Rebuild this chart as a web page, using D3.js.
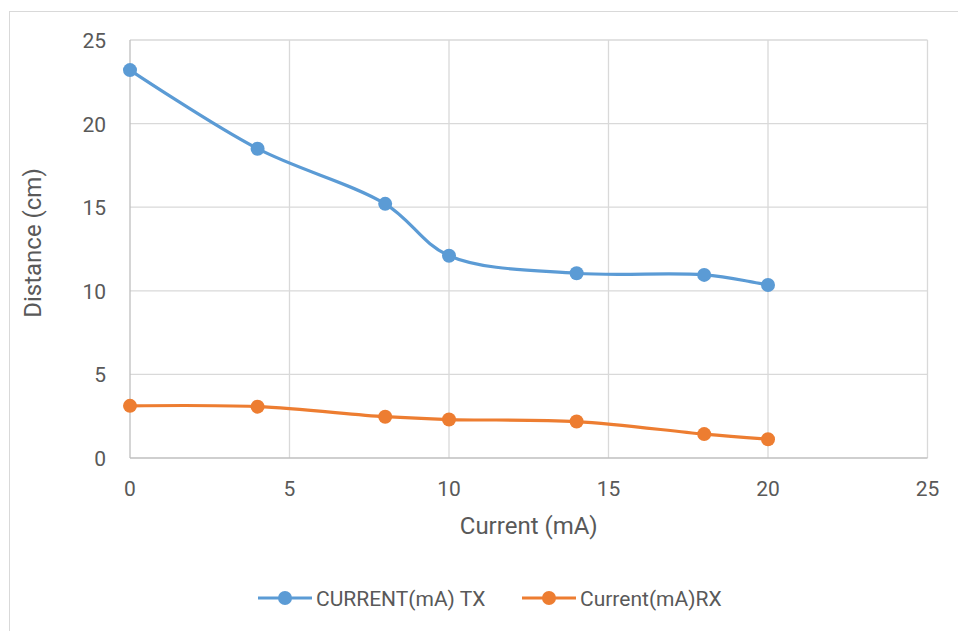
<!DOCTYPE html>
<html>
<head>
<meta charset="utf-8">
<script src="https://cdn.jsdelivr.net/npm/d3@7"></script>
<style>
  body { margin: 0; background: #fff; }
  text { font-family: "Roboto", sans-serif; fill: #595959; }
</style>
</head>
<body>
<svg width="958" height="631"></svg>
<script>
// data
let currents = [0, 4, 8, 10, 14, 18, 20];
let txDistance = [23.2, 18.5, 15.2, 12.1, 11.05, 10.95, 10.35];
let rxDistance = [3.12, 3.07, 2.47, 2.3, 2.18, 1.43, 1.12];
let seriesNames = ["CURRENT(mA) TX", "Current(mA)RX"];
let seriesColors = ["#5b9bd5", "#ed7d31"];
let xTicks = [0, 5, 10, 15, 20, 25];
let yTicks = [0, 5, 10, 15, 20, 25];

let svg = d3.select("svg");

// chart frame (runs off the right and bottom edges)
svg.append("rect")
  .attr("x", 9.5).attr("y", 11.5)
  .attr("width", 1000).attr("height", 700)
  .attr("fill", "none").attr("stroke", "#d9d9d9");

let plotLeft = 130, plotTop = 40, plotRight = 927.5, plotBottom = 458;

let x = d3.scaleLinear().domain([0, 25]).range([plotLeft, plotRight]);
let y = d3.scaleLinear().domain([0, 25]).range([plotBottom, plotTop]);

let g = svg.append("g");

// gridlines
g.selectAll(".vgrid").data(xTicks.slice(1))
  .enter().append("line")
  .attr("x1", d => x(d)).attr("x2", d => x(d))
  .attr("y1", plotTop).attr("y2", plotBottom)
  .attr("stroke", "#d9d9d9").attr("stroke-width", 1.3);

g.selectAll(".hgrid").data(yTicks.slice(1))
  .enter().append("line")
  .attr("x1", plotLeft).attr("x2", plotRight)
  .attr("y1", d => y(d)).attr("y2", d => y(d))
  .attr("stroke", "#d9d9d9").attr("stroke-width", 1.3);

// axis lines
g.append("line")
  .attr("x1", plotLeft).attr("x2", plotRight)
  .attr("y1", plotBottom).attr("y2", plotBottom)
  .attr("stroke", "#bfbfbf").attr("stroke-width", 1.3);
g.append("line")
  .attr("x1", plotLeft).attr("x2", plotLeft)
  .attr("y1", plotTop).attr("y2", plotBottom)
  .attr("stroke", "#bfbfbf").attr("stroke-width", 1.3);

// tick labels
g.selectAll(".xlab").data(xTicks)
  .enter().append("text")
  .attr("x", d => x(d)).attr("y", 496)
  .attr("text-anchor", "middle")
  .attr("font-size", 21)
  .text(d => d);

g.selectAll(".ylab").data(yTicks)
  .enter().append("text")
  .attr("x", 106).attr("y", d => y(d) + 8)
  .attr("text-anchor", "end")
  .attr("font-size", 21)
  .text(d => d);

// axis titles
svg.append("text")
  .attr("x", (plotLeft + plotRight) / 2).attr("y", 534)
  .attr("text-anchor", "middle")
  .attr("font-size", 24)
  .text("Current (mA)");

svg.append("text")
  .attr("transform", "translate(41,243) rotate(-90)")
  .attr("text-anchor", "middle")
  .attr("font-size", 24)
  .text("Distance (cm)");

// series
let line = d3.line()
  .x(d => x(d[0]))
  .y(d => y(d[1]))
  .curve(d3.curveCatmullRom.alpha(0.5));

[txDistance, rxDistance].map((vals, i) => {
  let pts = currents.map((c, j) => [c, vals[j]]);
  g.append("path")
    .attr("d", line(pts))
    .attr("fill", "none")
    .attr("stroke", seriesColors[i])
    .attr("stroke-width", 3.2)
    .attr("stroke-linecap", "round");
  g.selectAll(".pt" + i).data(pts)
    .enter().append("circle")
    .attr("cx", d => x(d[0]))
    .attr("cy", d => y(d[1]))
    .attr("r", 7)
    .attr("fill", seriesColors[i]);
});

// legend
let legendX = [258, 522];
seriesNames.map((name, i) => {
  let lg = svg.append("g").attr("transform", "translate(" + legendX[i] + ",598)");
  lg.append("line")
    .attr("x1", 0).attr("x2", 54)
    .attr("stroke", seriesColors[i]).attr("stroke-width", 3.2);
  lg.append("circle")
    .attr("cx", 27).attr("r", 7)
    .attr("fill", seriesColors[i]);
  lg.append("text")
    .attr("x", 58).attr("y", 8)
    .attr("font-size", 21)
    .text(name);
});
</script>
</body>
</html>
